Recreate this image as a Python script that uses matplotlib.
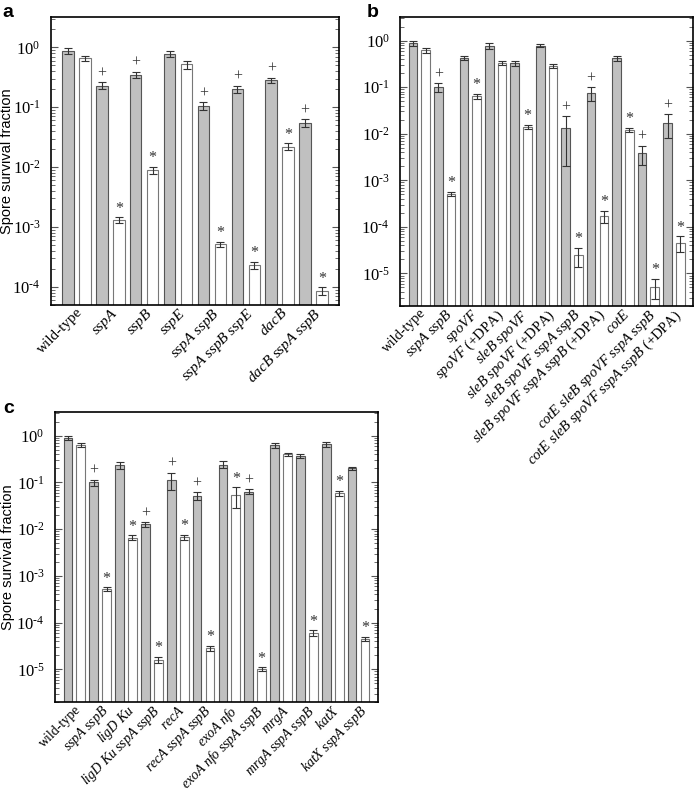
import math
import matplotlib
matplotlib.use('Agg')
import matplotlib.pyplot as plt
from matplotlib.ticker import LogLocator, NullFormatter, FixedLocator

plt.rcParams['font.family'] = ['Liberation Serif', 'DejaVu Serif']
plt.rcParams['mathtext.fontset'] = 'custom'
plt.rcParams['mathtext.rm'] = 'Liberation Serif'
plt.rcParams['mathtext.it'] = 'Liberation Serif:italic'

# panel a
a_labels = ['wild-type', 'sspA', 'sspB', 'sspE', 'sspA sspB', 'sspA sspB sspE', 'dacB', 'dacB sspA sspB']
a_gray = [0.88, 0.23, 0.35, 0.78, 0.105, 0.20, 0.28, 0.055]
a_gray_err = [0.10, 0.03, 0.04, 0.08, 0.015, 0.03, 0.03, 0.008]
a_white = [0.65, 1.3e-3, 9.0e-3, 0.52, 5.2e-4, 2.3e-4, 0.022, 8.5e-5]
a_white_err = [0.07, 0.15e-3, 1.2e-3, 0.08, 0.5e-4, 0.3e-4, 0.003, 1.3e-5]
a_gray_sig = ['', '+', '+', '', '+', '+', '+', '+']
a_white_sig = ['', '*', '*', '', '*', '*', '*', '*']

# panel b
b_labels = ['wild-type', 'sspA sspB', 'spoVF', 'spoVF (+DPA)', 'sleB spoVF', 'sleB spoVF (+DPA)',
            'sleB spoVF sspA sspB', 'sleB spoVF sspA sspB (+DPA)', 'cotE',
            'cotE sleB spoVF sspA sspB', 'cotE sleB spoVF sspA sspB (+DPA)']
b_gray = [0.88, 0.10, 0.42, 0.78, 0.33, 0.78, 0.013, 0.075, 0.42, 3.8e-3, 0.017]
b_gray_err = [0.10, 0.02, 0.04, 0.12, 0.04, 0.07, 0.011, 0.025, 0.05, 1.7e-3, 0.009]
b_white = [0.62, 5.2e-4, 0.065, 0.33, 0.014, 0.29, 2.5e-5, 1.7e-4, 0.012, 5.2e-6, 4.6e-5]
b_white_err = [0.07, 0.5e-4, 0.008, 0.03, 0.0015, 0.03, 1.1e-5, 0.5e-4, 0.0012, 2.4e-6, 1.7e-5]
b_gray_sig = ['', '+', '', '', '', '', '+', '+', '', '+', '+']
b_white_sig = ['', '*', '*', '', '*', '', '*', '*', '*', '*', '*']

# panel c
c_labels = ['wild-type', 'sspA sspB', 'ligD Ku', 'ligD Ku sspA sspB', 'recA', 'recA sspA sspB',
            'exoA nfo', 'exoA nfo sspA sspB', 'mrgA', 'mrgA sspA sspB', 'katX', 'katX sspA sspB']
c_gray = [0.88, 0.10, 0.235, 0.0128, 0.115, 0.052, 0.24, 0.063, 0.62, 0.37, 0.65, 0.20]
c_gray_err = [0.09, 0.015, 0.04, 0.0015, 0.045, 0.01, 0.04, 0.008, 0.08, 0.04, 0.08, 0.015]
c_white = [0.63, 5.2e-4, 6.6e-3, 1.6e-5, 6.7e-3, 2.8e-5, 0.053, 1.0e-5, 0.40, 6.0e-5, 0.058, 4.5e-5]
c_white_err = [0.05, 0.5e-4, 0.8e-3, 0.25e-5, 0.8e-3, 0.35e-5, 0.025, 0.1e-5, 0.03, 0.8e-5, 0.008, 0.4e-5]
c_gray_sig = ['', '+', '', '+', '+', '+', '', '+', '', '', '', '']
c_white_sig = ['', '*', '*', '*', '*', '*', '*', '*', '', '*', '*', '*']


def fmt_label(s):
    if s == 'wild-type':
        return s
    suffix = ''
    if s.endswith(' (+DPA)'):
        s = s[:-7]
        suffix = ' (+DPA)'
    return r'$\mathit{' + s.replace(' ', r'\ ') + '}$' + suffix


def panel(ax, labels, gray, gerr, white, werr, gsig, wsig, ylim, xfs):
    n = len(labels)
    xg = [2 * i for i in range(n)]
    xw = [2 * i + 1 for i in range(n)]
    ax.bar(xg, gray, width=0.68, color='#c0c0c0', edgecolor='#555555', linewidth=0.8, zorder=2)
    ax.bar(xw, white, width=0.68, color='white', edgecolor='#777777', linewidth=0.8, zorder=2)
    ax.errorbar(xg, gray, yerr=gerr, fmt='none', ecolor='#333333', elinewidth=0.8, capsize=2.6, capthick=0.8, zorder=3)
    ax.errorbar(xw, white, yerr=werr, fmt='none', ecolor='#333333', elinewidth=0.8, capsize=2.6, capthick=0.8, zorder=3)
    for x, v, e, s in zip(xg + xw, gray + white, gerr + werr, gsig + wsig):
        if s:
            ax.annotate(s, (x, v + e), xytext=(0, 0.5), textcoords='offset points',
                        ha='center', va='bottom', fontsize=11.5, color='#333333')
    ax.set_yscale('log')
    ax.set_ylim(*ylim)
    ax.set_xlim(-1, 2 * n)
    ax.xaxis.set_major_locator(FixedLocator([2 * i + 0.5 for i in range(n)]))
    ax.set_xticklabels([fmt_label(l) for l in labels], rotation=45, ha='right',
                       rotation_mode='anchor', fontsize=xfs)
    ax.tick_params(axis='x', length=0, pad=0.5)
    ax.yaxis.set_minor_locator(LogLocator(base=10, subs=range(2, 10), numticks=12))
    ax.yaxis.set_minor_formatter(NullFormatter())
    ticks = [10.0 ** k for k in range(-6, 1) if ylim[0] <= 10.0 ** k <= ylim[1]]
    ax.set_yticks(ticks)
    ax.set_yticklabels([r'$10^{\text{%d}}$' % round(math.log10(t)) for t in ticks], fontsize=12)
    ax.tick_params(axis='y', which='both', direction='in', left=True, right=True, color='#555555', pad=7.5)
    ax.tick_params(axis='y', which='major', length=5, width=0.8)
    ax.tick_params(axis='y', which='minor', length=3, width=0.6)
    for sp in ax.spines.values():
        sp.set_linewidth(1.2)


fig = plt.figure(figsize=(6.96, 7.92), dpi=100)
ax_a = fig.add_axes([0.0733, 0.615, 0.4137, 0.3635])
ax_b = fig.add_axes([0.575, 0.6136, 0.4207, 0.3649])
ax_c = fig.add_axes([0.079, 0.1136, 0.464, 0.3662])

panel(ax_a, a_labels, a_gray, a_gray_err, a_white, a_white_err, a_gray_sig, a_white_sig, (5e-5, 3.2), 11)
panel(ax_b, b_labels, b_gray, b_gray_err, b_white, b_white_err, b_gray_sig, b_white_sig, (2e-6, 3.2), 10.5)
panel(ax_c, c_labels, c_gray, c_gray_err, c_white, c_white_err, c_gray_sig, c_white_sig, (2e-6, 3.2), 10)

for ax, lx in ((ax_a, -0.127), (ax_c, -0.125)):
    ax.set_ylabel('Spore survival fraction', family=['Liberation Sans', 'DejaVu Sans'], fontsize=10.5)
    ax.yaxis.set_label_coords(lx, 0.5)

for x, y, t in [(0.004, 0.9785, 'a'), (0.527, 0.9785, 'b'), (0.004, 0.4785, 'c')]:
    fig.text(x, y, t, family=['Liberation Sans', 'DejaVu Sans'], weight='bold', fontsize=14, va='baseline')

fig.savefig('out.png', dpi=100)
